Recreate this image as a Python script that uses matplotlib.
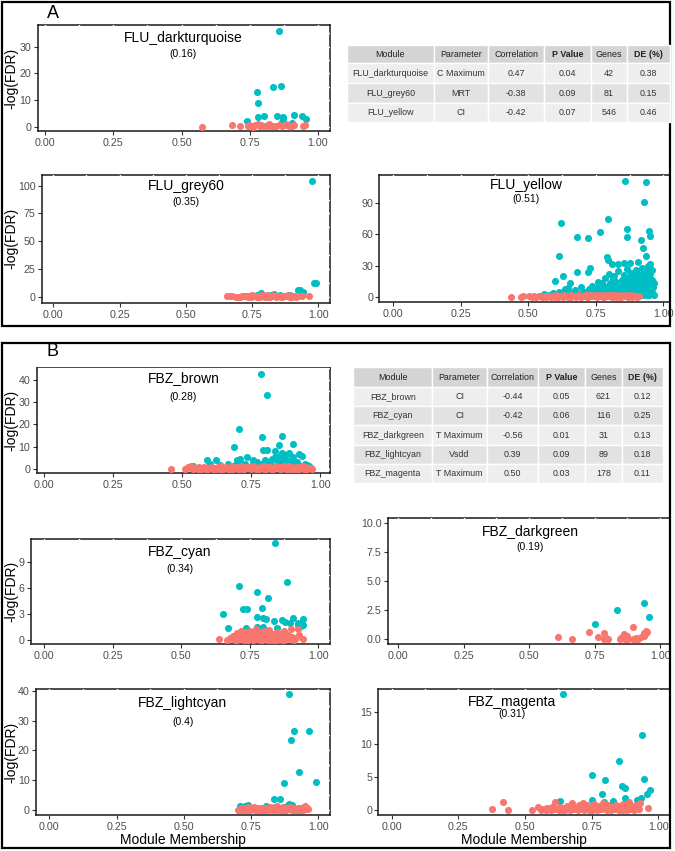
import matplotlib.pyplot as plt
from matplotlib.patches import Rectangle
from matplotlib.ticker import AutoMinorLocator

plt.rcParams['font.family'] = ['Liberation Sans', 'DejaVu Sans']

TEAL = '#00BFC4'
SALMON = '#F8766D'
W, H = 675, 851

# ---- data: (module membership, -log(FDR)) ----
dt_sig = [(0.857, 36.0), (0.775, 13.0), (0.836, 14.7), (0.864, 15.2), (0.781, 8.7), (0.739, 2.0),
          (0.780, 3.5), (0.803, 4.1), (0.851, 3.9), (0.873, 3.8), (0.870, 2.8), (0.912, 4.4),
          (0.940, 4.1), (0.956, 3.0), (0.906, 1.3), (0.868, 1.6)]
dt_ns = [(0.575, 0.0), (0.686, 0.5), (0.716, 0.2), (0.742, 0.1), (0.748, 0.5), (0.757, 0.3),
         (0.768, 0.6), (0.779, 1.0), (0.786, 0.3), (0.792, 0.8), (0.801, 0.1), (0.822, 0.9),
         (0.829, 0.4), (0.836, 0.1), (0.846, 0.2), (0.858, 0.6), (0.868, 0.1), (0.879, 0.5),
         (0.884, 1.0), (0.892, 0.2), (0.903, 0.4), (0.911, 0.8), (0.944, 0.3), (0.951, 0.7),
         (0.761, 0.0), (0.812, 0.2)]

grey_sig = [(0.976, 104.5), (0.982, 12.0), (0.990, 12.0), (0.923, 6.0), (0.932, 6.0), (0.942, 4.5),
            (0.785, 3.0), (0.821, 1.5), (0.834, 2.4), (0.856, 1.2), (0.894, 1.2), (0.768, 1.5)]
grey_ns = [(0.655, 0.2), (0.668, 1.0), (0.676, 0.3), (0.688, 0.1), (0.700, 0.0), (0.712, 0.4),
           (0.720, 0.2), (0.728, 0.8), (0.735, 0.1), (0.742, 0.5), (0.749, 1.2), (0.756, 0.3),
           (0.762, 0.7), (0.768, 0.0), (0.774, 0.9), (0.780, 0.2), (0.786, 1.4), (0.791, 0.4),
           (0.797, 0.1), (0.802, 0.6), (0.807, 1.1), (0.812, 0.3), (0.817, 0.0), (0.822, 0.8),
           (0.827, 0.2), (0.832, 1.3), (0.837, 0.5), (0.842, 0.1), (0.847, 0.7), (0.852, 0.3),
           (0.857, 1.0), (0.862, 0.0), (0.867, 0.4), (0.872, 0.9), (0.877, 0.2), (0.882, 0.6),
           (0.887, 1.2), (0.892, 0.1), (0.897, 0.5), (0.903, 0.3), (0.910, 0.8), (0.917, 0.0),
           (0.925, 0.4), (0.938, 0.2), (0.963, 0.3), (0.744, 0.0), (0.766, 0.3), (0.788, 0.6),
           (0.809, 0.0), (0.829, 0.4), (0.849, 0.2), (0.869, 0.7), (0.889, 0.5), (0.706, 0.1),
           (0.733, 0.6), (0.778, 0.0), (0.819, 0.2), (0.859, 0.1), (0.874, 0.3), (0.900, 0.0)]

yel_sig = [(0.858, 111.6), (0.936, 110.3), (0.930, 91.6), (0.796, 74.6), (0.620, 70.8), (0.864, 65.3),
           (0.864, 57.6), (0.681, 57.6), (0.722, 56.3), (0.948, 63.4), (0.951, 58.8), (0.916, 54.4),
           (0.926, 47.3), (0.766, 62.1), (0.613, 39.2), (0.936, 39.2), (0.790, 38.6), (0.796, 35.4),
           (0.809, 31.9), (0.833, 31.9), (0.856, 32.0), (0.877, 32.0), (0.908, 33.2), (0.951, 31.2),
           (0.729, 27.4), (0.722, 24.1), (0.679, 23.5), (0.627, 20.0), (0.599, 15.1), (0.654, 12.9),
           (0.772, 12.9),
           (0.612, 5), (0.635, 7), (0.648, 8), (0.660, 4), (0.672, 6), (0.688, 3), (0.695, 9),
           (0.705, 5), (0.712, 4), (0.725, 7), (0.735, 10), (0.742, 6), (0.748, 3), (0.755, 8),
           (0.760, 14), (0.768, 5), (0.775, 11), (0.780, 7), (0.785, 18), (0.790, 4), (0.795, 9),
           (0.800, 22), (0.803, 13), (0.807, 6), (0.812, 17), (0.815, 10), (0.818, 20), (0.822, 4),
           (0.826, 14), (0.830, 8), (0.834, 25), (0.838, 12), (0.842, 6), (0.846, 16), (0.850, 9),
           (0.853, 21), (0.857, 5), (0.861, 13), (0.864, 27), (0.868, 8), (0.871, 18), (0.875, 11),
           (0.878, 4), (0.882, 23), (0.885, 15), (0.888, 7), (0.892, 19), (0.895, 10), (0.898, 26),
           (0.902, 5), (0.905, 14), (0.908, 22), (0.912, 8), (0.915, 17), (0.918, 12), (0.921, 28),
           (0.924, 6), (0.927, 20), (0.930, 15), (0.933, 9), (0.936, 24), (0.939, 4), (0.942, 13),
           (0.945, 18), (0.948, 7), (0.951, 22), (0.954, 11), (0.957, 16), (0.960, 5), (0.963, 9),
           (0.966, 13), (0.958, 26), (0.944, 30), (0.926, 23),
           (0.560, 3), (0.575, 2), (0.590, 4), (0.600, 2), (0.620, 3), (0.640, 2), (0.655, 3),
           (0.665, 2), (0.680, 2), (0.700, 3), (0.715, 2), (0.730, 3), (0.745, 2), (0.760, 3),
           (0.770, 2), (0.785, 3), (0.798, 2), (0.810, 3), (0.820, 2), (0.832, 3), (0.844, 2),
           (0.856, 3), (0.866, 2), (0.876, 3), (0.886, 2), (0.896, 3), (0.906, 2), (0.916, 3),
           (0.926, 2), (0.936, 3), (0.946, 2), (0.956, 3), (0.966, 2), (0.940, 1.5), (0.910, 1.5),
           (0.870, 1.5)]
yel_ns = [(0.435, 0.2), (0.472, 0.1), (0.481, 0.3), (0.503, 1.0), (0.512, 0.2), (0.522, 0.5),
          (0.530, 0.1), (0.538, 0.8), (0.545, 0.3), (0.552, 0.0), (0.558, 0.6), (0.565, 0.2),
          (0.572, 1.1), (0.578, 0.4), (0.585, 0.0), (0.591, 0.7), (0.598, 0.3), (0.604, 1.3),
          (0.610, 0.1), (0.616, 0.5), (0.622, 0.9), (0.628, 0.2), (0.634, 1.4), (0.640, 0.4),
          (0.646, 0.0), (0.652, 0.8), (0.658, 1.6), (0.664, 0.3), (0.670, 1.0), (0.676, 0.1),
          (0.682, 0.6), (0.688, 1.5), (0.694, 0.2), (0.700, 1.1), (0.706, 0.4), (0.712, 1.7),
          (0.718, 0.0), (0.724, 0.7), (0.730, 1.3), (0.736, 0.3), (0.742, 0.9), (0.748, 1.8),
          (0.754, 0.2), (0.760, 1.2), (0.766, 0.5), (0.772, 1.6), (0.778, 0.1), (0.784, 0.8),
          (0.790, 1.4), (0.796, 0.3), (0.802, 1.0), (0.808, 1.9), (0.814, 0.4), (0.820, 1.2),
          (0.826, 0.0), (0.832, 0.7), (0.838, 1.5), (0.844, 0.2), (0.850, 1.1), (0.856, 0.5),
          (0.862, 1.7), (0.868, 0.3), (0.874, 0.9), (0.880, 1.3), (0.886, 0.1), (0.892, 0.6),
          (0.898, 1.0), (0.904, 0.2), (0.910, 0.4), (0.600, 0.0), (0.660, 0.0), (0.720, 0.2),
          (0.780, 0.0), (0.840, 0.1), (0.870, 0.0), (0.630, 0.6), (0.690, 0.3), (0.750, 0.5),
          (0.810, 0.2)]

brown_sig = [(0.786, 42.6), (0.807, 33.2), (0.707, 18.0), (0.791, 14.2), (0.861, 14.8), (0.689, 9.9),
             (0.852, 10.7), (0.901, 11.3), (0.794, 8.5), (0.807, 8.5), (0.837, 8.0), (0.863, 7.5),
             (0.540, 1.6), (0.589, 4.1), (0.623, 4.1), (0.665, 2.6), (0.698, 4.1), (0.710, 4.8),
             (0.734, 5.6), (0.758, 4.1), (0.770, 3.4), (0.788, 2.6), (0.806, 3.1), (0.825, 4.5),
             (0.838, 5.6), (0.855, 6.0), (0.865, 4.8), (0.874, 6.3), (0.886, 7.5), (0.903, 5.6),
             (0.925, 7.0), (0.934, 6.0), (0.946, 2.6), (0.952, 1.9), (0.918, 3.4), (0.897, 3.4),
             (0.880, 4.1), (0.843, 3.7), (0.819, 2.2), (0.800, 4.1), (0.758, 2.2), (0.729, 2.6),
             (0.707, 3.1), (0.692, 1.9), (0.674, 1.6), (0.601, 2.6), (0.637, 1.9), (0.861, 2.2),
             (0.891, 1.6), (0.927, 1.6), (0.960, 1.6)]
brown_ns = [(0.460, 0.1), (0.512, 0.2), (0.520, 0.9), (0.527, 0.4), (0.533, 1.3), (0.540, 0.0),
            (0.548, 0.6), (0.556, 0.2), (0.562, 0.9), (0.569, 0.1), (0.575, 0.5), (0.581, 1.1),
            (0.588, 0.3), (0.594, 0.0), (0.600, 0.7), (0.606, 1.2), (0.612, 0.2), (0.618, 0.5),
            (0.624, 0.0), (0.630, 0.9), (0.636, 0.3), (0.642, 1.4), (0.648, 0.1), (0.654, 0.6),
            (0.660, 1.0), (0.666, 0.2), (0.672, 0.7), (0.678, 1.3), (0.684, 0.0), (0.690, 0.4),
            (0.696, 1.1), (0.702, 0.2), (0.708, 0.8), (0.714, 1.5), (0.720, 0.3), (0.726, 0.0),
            (0.732, 0.9), (0.738, 0.4), (0.744, 1.2), (0.750, 0.1), (0.756, 0.6), (0.762, 1.4),
            (0.768, 0.2), (0.774, 0.8), (0.780, 0.0), (0.786, 1.1), (0.792, 0.5), (0.798, 1.6),
            (0.804, 0.2), (0.810, 0.7), (0.816, 1.2), (0.822, 0.3), (0.828, 0.0), (0.834, 0.9),
            (0.840, 1.5), (0.846, 0.4), (0.852, 1.0), (0.858, 0.1), (0.864, 0.6), (0.870, 1.3),
            (0.876, 0.2), (0.882, 0.8), (0.888, 1.6), (0.894, 0.3), (0.900, 1.0), (0.906, 0.0),
            (0.912, 0.5), (0.918, 1.2), (0.924, 0.2), (0.930, 0.7), (0.936, 1.4), (0.942, 0.3),
            (0.948, 0.9), (0.954, 0.1), (0.960, 0.5), (0.966, 0.8), (0.970, 0.2), (0.585, 0.0),
            (0.645, 0.3), (0.705, 0.0), (0.765, 0.4), (0.825, 0.1), (0.885, 0.2), (0.945, 0.0),
            (0.615, 0.8), (0.675, 0.2), (0.735, 0.6), (0.795, 0.0), (0.855, 0.3), (0.915, 0.1)]

cyan_sig = [(0.842, 11.2), (0.711, 6.3), (0.887, 6.7), (0.775, 5.5), (0.815, 4.9), (0.651, 3.0),
            (0.726, 3.55), (0.741, 3.55), (0.793, 3.75), (0.777, 2.7), (0.799, 2.5), (0.811, 2.4),
            (0.866, 2.3), (0.878, 2.1), (0.909, 2.6), (0.897, 2.0), (0.925, 2.0), (0.939, 2.0),
            (0.944, 2.45), (0.927, 1.7), (0.937, 1.65), (0.945, 1.7), (0.669, 1.35), (0.735, 1.35),
            (0.777, 1.45), (0.799, 1.45), (0.848, 1.4), (0.838, 2.2)]
cyan_ns = [(0.636, 0.1), (0.668, 0.0), (0.676, 0.2), (0.684, 0.1), (0.690, 0.5), (0.695, 0.0),
           (0.700, 0.3), (0.705, 0.8), (0.709, 0.1), (0.713, 0.4), (0.717, 1.0), (0.721, 0.2),
           (0.725, 0.6), (0.729, 0.0), (0.733, 0.9), (0.737, 0.3), (0.741, 0.1), (0.745, 0.7),
           (0.749, 1.0), (0.753, 0.2), (0.757, 0.5), (0.761, 0.0), (0.765, 0.8), (0.769, 0.3),
           (0.773, 1.3), (0.777, 0.1), (0.781, 0.6), (0.785, 0.2), (0.789, 0.9), (0.793, 0.0),
           (0.797, 0.4), (0.801, 1.0), (0.805, 0.2), (0.810, 0.6), (0.815, 0.1), (0.820, 1.1),
           (0.825, 0.3), (0.830, 0.0), (0.835, 0.7), (0.840, 0.2), (0.845, 0.5), (0.850, 0.9),
           (0.855, 0.1), (0.860, 0.4), (0.866, 0.0), (0.871, 0.8), (0.876, 1.0), (0.882, 0.3),
           (0.888, 0.6), (0.894, 0.1), (0.900, 1.3), (0.906, 0.4), (0.912, 0.0), (0.918, 0.2),
           (0.925, 1.3), (0.930, 0.6), (0.943, 0.1), (0.702, 0.0), (0.723, 0.3), (0.744, 0.0),
           (0.766, 0.2), (0.787, 0.0), (0.808, 0.3), (0.829, 0.6), (0.851, 0.0), (0.872, 0.2),
           (0.893, 0.5), (0.760, 0.6), (0.817, 0.0), (0.874, 0.0), (0.731, 0.5), (0.783, 0.4),
           (0.839, 0.0), (0.862, 0.7)]

dg_sig = [(0.940, 3.14), (0.834, 2.5), (0.752, 1.32), (0.958, 1.93)]
dg_ns = [(0.609, 0.2), (0.665, 0.0), (0.729, 0.6), (0.762, 0.2), (0.785, 0.5), (0.787, 0.0),
         (0.800, 0.0), (0.848, 0.0), (0.855, 0.2), (0.862, 0.4), (0.866, 0.0), (0.872, 0.3),
         (0.898, 1.06), (0.896, 0.0), (0.906, 0.0), (0.915, 0.0), (0.928, 0.15), (0.942, 0.4),
         (0.946, 0.7), (0.938, 0.55), (0.860, 0.1), (0.792, 0.1), (0.950, 0.6), (0.877, 0.0),
         (0.910, 0.1), (0.940, 0.25), (0.852, 0.05)]

lc_sig = [(0.892, 38.9), (0.910, 26.5), (0.965, 26.5), (0.898, 23.3), (0.929, 12.9), (0.872, 9.2),
          (0.990, 9.5), (0.835, 3.7), (0.858, 3.8), (0.804, 1.45), (0.709, 1.5), (0.728, 1.4),
          (0.740, 1.8), (0.883, 1.5), (0.892, 2.0), (0.901, 1.8)]
lc_ns = [(0.703, 0.0), (0.707, 0.4), (0.712, 0.1), (0.716, 0.7), (0.720, 0.2), (0.725, 0.0),
         (0.729, 0.5), (0.733, 0.1), (0.738, 0.9), (0.742, 0.3), (0.746, 0.0), (0.751, 0.6),
         (0.755, 0.2), (0.759, 1.0), (0.764, 0.1), (0.768, 0.4), (0.772, 0.0), (0.777, 0.7),
         (0.781, 0.2), (0.785, 0.5), (0.790, 0.0), (0.794, 0.8), (0.798, 0.3), (0.803, 0.1),
         (0.807, 0.6), (0.811, 0.0), (0.816, 0.4), (0.820, 1.1), (0.824, 0.2), (0.829, 0.0),
         (0.833, 0.5), (0.837, 0.1), (0.842, 0.8), (0.846, 1.2), (0.850, 0.3), (0.855, 0.0),
         (0.859, 0.6), (0.863, 0.2), (0.868, 1.0), (0.872, 0.1), (0.876, 0.4), (0.881, 0.0),
         (0.885, 0.7), (0.889, 0.2), (0.894, 1.1), (0.898, 0.3), (0.902, 0.0), (0.907, 0.6),
         (0.911, 0.1), (0.915, 0.4), (0.920, 0.0), (0.924, 0.8), (0.928, 0.2), (0.933, 0.0),
         (0.937, 0.5), (0.941, 0.1), (0.946, 1.1), (0.950, 1.2), (0.954, 0.4), (0.959, 0.7),
         (0.963, 0.3), (0.731, 0.3), (0.783, 0.0), (0.835, 0.9), (0.861, 0.0)]

mg_sig = [(0.644, 17.7), (0.940, 11.45), (0.853, 7.5), (0.753, 5.3), (0.800, 4.6), (0.948, 4.8),
          (0.865, 3.7), (0.875, 3.3), (0.969, 3.05), (0.956, 2.4), (0.788, 2.5), (0.935, 1.8),
          (0.875, 1.9), (0.919, 1.5), (0.831, 1.4), (0.831, 1.2), (0.798, 1.3), (0.750, 1.6),
          (0.631, 1.4)]
mg_ns = [(0.375, 0.2), (0.416, 1.2), (0.435, 0.0), (0.525, 0.0), (0.550, 0.4), (0.560, 0.0),
         (0.566, 0.2), (0.572, 0.1), (0.578, 0.0), (0.584, 0.3), (0.590, 0.1), (0.596, 0.0),
         (0.602, 0.4), (0.608, 0.1), (0.613, 1.3), (0.620, 0.2), (0.626, 0.0), (0.632, 0.5),
         (0.638, 0.1), (0.644, 0.3), (0.650, 0.0), (0.656, 0.6), (0.662, 0.2), (0.668, 0.0),
         (0.675, 1.1), (0.680, 0.4), (0.686, 0.1), (0.692, 0.3), (0.698, 0.0), (0.704, 0.7),
         (0.710, 0.2), (0.716, 1.1), (0.722, 0.0), (0.728, 0.4), (0.734, 0.8), (0.740, 0.1),
         (0.746, 0.5), (0.752, 0.0), (0.758, 0.9), (0.764, 0.3), (0.770, 0.0), (0.776, 0.6),
         (0.782, 0.1), (0.788, 0.4), (0.794, 1.0), (0.800, 0.2), (0.806, 0.0), (0.812, 0.7),
         (0.818, 0.3), (0.824, 0.0), (0.830, 0.5), (0.836, 0.1), (0.842, 0.8), (0.848, 0.2),
         (0.854, 0.0), (0.860, 0.4), (0.866, 0.9), (0.872, 0.1), (0.878, 0.3), (0.884, 0.0),
         (0.890, 1.2), (0.896, 0.5), (0.902, 0.1), (0.908, 0.0), (0.914, 0.3), (0.920, 0.7),
         (0.926, 0.2), (0.932, 1.0), (0.960, 0.3), (0.598, 0.2), (0.640, 0.0), (0.682, 0.2),
         (0.724, 0.5), (0.766, 0.1), (0.808, 0.4), (0.850, 0.6), (0.892, 0.2), (0.700, 0.3),
         (0.742, 0.0), (0.784, 0.2), (0.826, 0.3), (0.868, 0.0), (0.910, 0.6), (0.925, 0.8)]

# ---- tables ----
tab_header = ['Module', 'Parameter', 'Correlation', 'P Value', 'Genes', 'DE (%)']
tabA_rows = [['FLU_darkturquoise', 'C Maximum', '0.47', '0.04', '42', '0.38'],
             ['FLU_grey60', 'MRT', '-0.38', '0.09', '81', '0.15'],
             ['FLU_yellow', 'CI', '-0.42', '0.07', '546', '0.46']]
tabB_rows = [['FBZ_brown', 'CI', '-0.44', '0.05', '621', '0.12'],
             ['FBZ_cyan', 'CI', '-0.42', '0.06', '116', '0.25'],
             ['FBZ_darkgreen', 'T Maximum', '-0.56', '0.01', '31', '0.13'],
             ['FBZ_lightcyan', 'Vsdd', '0.39', '0.09', '89', '0.18'],
             ['FBZ_magenta', 'T Maximum', '0.50', '0.03', '178', '0.11']]

fig = plt.figure(figsize=(W / 100, H / 100), dpi=100)


def px_axes(l, t, r, b):
    return fig.add_axes([l / W, 1 - b / H, (r - l) / W, (b - t) / H])


def panel(box, xlim, ylim, yticks, ylabels, sig, ns, name, corr, tpos,
          ylab=False, xlab=False):
    ax = px_axes(*box)
    ax.scatter([p[0] for p in sig], [p[1] for p in sig], s=26, c=TEAL, lw=0, zorder=2)
    ax.scatter([p[0] for p in ns], [p[1] for p in ns], s=26, c=SALMON, lw=0, zorder=3)
    ax.set_xlim(*xlim)
    ax.set_ylim(*ylim)
    ax.set_xticks([0, 0.25, 0.5, 0.75, 1.0])
    ax.set_xticklabels(['0.00', '0.25', '0.50', '0.75', '1.00'])
    ax.set_yticks(yticks)
    ax.set_yticklabels(ylabels)
    ax.xaxis.set_minor_locator(AutoMinorLocator(2))
    ax.yaxis.set_minor_locator(AutoMinorLocator(2))
    ax.tick_params(which='major', length=3, width=0.8, color='#333333',
                   labelcolor='#4D4D4D', labelsize=7.7)
    ax.tick_params(axis='x', pad=2)
    ax.tick_params(axis='y', pad=1.5)
    ax.tick_params(which='minor', length=0)
    # white grid lines over the top/right border give the broken frame look
    ax.set_axisbelow(True)
    ax.grid(True, which='both', color='white', lw=1.0)
    for side in ['top', 'right']:
        ax.spines[side].set_zorder(0.3)
    for s in ax.spines.values():
        s.set_color('#1a1a1a')
        s.set_linewidth(1.1)
    ax.text(tpos[0], tpos[1], name, transform=ax.transAxes, ha='center', va='center',
            fontsize=10)
    ax.text(tpos[0], tpos[2], corr, transform=ax.transAxes, ha='center', va='center',
            fontsize=7.5)
    l, t, r, b = box
    if ylab:
        fig.text(11 / W, 1 - (t + b) / 2 / H, '-log(FDR)', rotation=90,
                 ha='center', va='center', fontsize=10)
    if xlab:
        fig.text((l + r) / 2 / W, 1 - 840 / H, 'Module Membership',
                 ha='center', va='center', fontsize=10)
    return ax


panel((37.7, 25, 330, 131), (-0.027, 1.044), (-1.6, 38.1), [0, 10, 20, 30],
      ['0', '10', '20', '30'], dt_sig, dt_ns, 'FLU_darkturquoise', '(0.16)',
      (0.497, 0.88, 0.73), ylab=True)
panel((41.7, 175, 330, 302.7), (-0.044, 1.044), (-5.4, 109.6), [0, 25, 50, 75, 100],
      ['0', '25', '50', '75', '100'], grey_sig, grey_ns, 'FLU_grey60', '(0.35)',
      (0.5, 0.914, 0.79), ylab=True)
panel((379.3, 175, 670, 301.7), (-0.052, 1.025), (-4.8, 117.2), [0, 30, 60, 90],
      ['0', '30', '60', '90'], yel_sig, yel_ns, 'FLU_yellow', '(0.51)',
      (0.504, 0.92, 0.81))
panel((36.7, 367.7, 330, 472.7), (-0.027, 1.036), (-1.5, 45.3), [0, 10, 20, 30, 40],
      ['0', '10', '20', '30', '40'], brown_sig, brown_ns, 'FBZ_brown', '(0.28)',
      (0.5, 0.9, 0.724), ylab=True)
panel((31, 539.3, 330, 644.3), (-0.049, 1.043), (-0.5, 11.65), [0, 3, 6, 9],
      ['0', '3', '6', '9'], cyan_sig, cyan_ns, 'FBZ_cyan', '(0.34)',
      (0.498, 0.88, 0.72), ylab=True)
panel((387.7, 518.3, 670, 644.3), (-0.04, 1.038), (-0.46, 10.43), [0, 2.5, 5, 7.5, 10],
      ['0.0', '2.5', '5.0', '7.5', '10.0'], dg_sig, dg_ns, 'FBZ_darkgreen', '(0.19)',
      (0.504, 0.894, 0.77))
panel((36, 689.3, 330, 815), (-0.049, 1.043), (-1.68, 40.46), [0, 10, 20, 30, 40],
      ['0', '10', '20', '30', '40'], lc_sig, lc_ns, 'FBZ_lightcyan', '(0.4)',
      (0.499, 0.89, 0.74), ylab=True, xlab=True)
panel((378.3, 689, 670, 815), (-0.05, 1.044), (-0.76, 18.47), [0, 5, 10, 15],
      ['0', '5', '10', '15'], mg_sig, mg_ns, 'FBZ_magenta', '(0.31)',
      (0.46, 0.895, 0.80), xlab=True)

# overlay in pixel coordinates for boxes, labels and tables
ov = fig.add_axes([0, 0, 1, 1], zorder=10)
ov.set_xlim(0, W)
ov.set_ylim(H, 0)
ov.axis('off')
ov.patch.set_alpha(0)

ov.add_patch(Rectangle((2, 2), 668, 324, fill=False, ec='black', lw=1.6))
ov.add_patch(Rectangle((2, 343), 668, 505, fill=False, ec='black', lw=1.6))
ov.text(53, 14, 'A', ha='center', va='center', fontsize=13)
ov.text(52, 352, 'B', ha='center', va='center', fontsize=13)


def draw_table(cols, rows_y, rows):
    for j, h in enumerate(tab_header):
        x0, x1 = cols[j], cols[j + 1]
        ov.add_patch(Rectangle((x0, rows_y[0]), x1 - x0, rows_y[1] - rows_y[0],
                               fc='#D4D4D4', ec='white', lw=1))
        ov.text((x0 + x1) / 2, (rows_y[0] + rows_y[1]) / 2, h, ha='center', va='center',
                fontsize=6.4, color='#222222',
                fontweight='bold' if h in ('P Value', 'DE (%)') else 'normal')
    for i, row in enumerate(rows):
        y0, y1 = rows_y[i + 1], rows_y[i + 2]
        fc = '#EEEEEE' if i % 2 == 0 else '#E2E2E2'
        for j, val in enumerate(row):
            x0, x1 = cols[j], cols[j + 1]
            ov.add_patch(Rectangle((x0, y0), x1 - x0, y1 - y0, fc=fc, ec='white', lw=1))
            ov.text((x0 + x1) / 2, (y0 + y1) / 2, val, ha='center', va='center',
                    fontsize=6.4, color='#333333')


draw_table([346.7, 434.3, 488.3, 544.3, 590.7, 627.3, 670],
           [45, 63.3, 83.3, 103.3, 121.7], tabA_rows)
draw_table([353.3, 432.3, 486.7, 538.3, 585, 621.7, 663.3],
           [367.3, 386.7, 406, 425.3, 444.7, 464, 483.3], tabB_rows)

fig.savefig('out.png', dpi=100)
